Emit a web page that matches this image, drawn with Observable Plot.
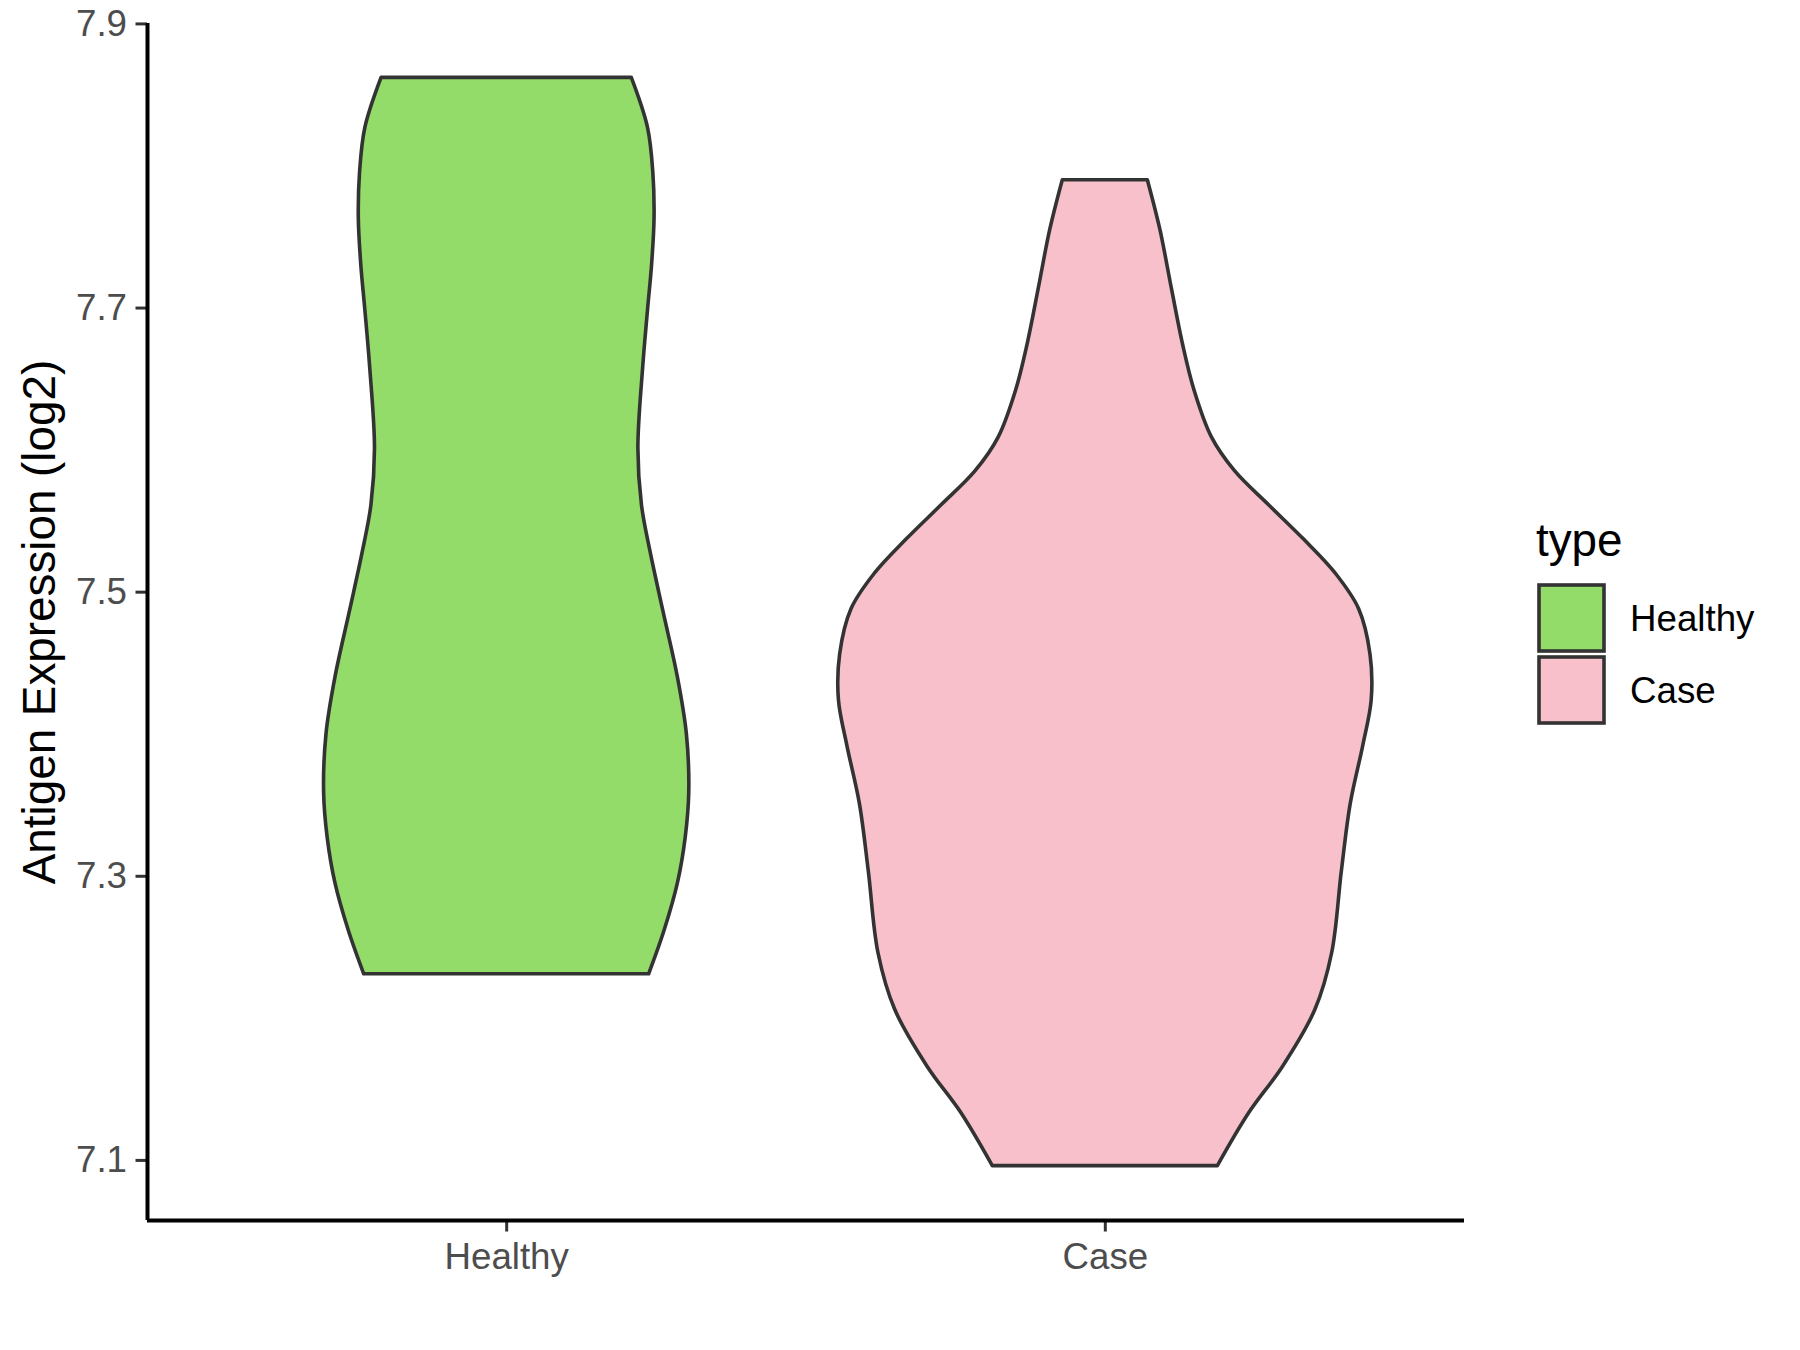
<!DOCTYPE html>
<html><head><meta charset="utf-8">
<script src="https://cdn.jsdelivr.net/npm/d3@7"></script>
<script src="https://cdn.jsdelivr.net/npm/@observablehq/plot@0.6"></script>
<style>
body{margin:0;background:#fff;font-family:"Liberation Sans",Arial,sans-serif;}
#wrap{position:relative;width:1800px;height:1350px;}
#wrap svg{display:block;}
</style></head><body><div id="wrap"></div>
<script>
const categories = ["Healthy", "Case"];
const categoryFills = ["#93DC6A", "#F7C0CB"];
const yTicks = [7.1, 7.3, 7.5, 7.7, 7.9];
const yLabel = "Antigen Expression (log2)";
const legendTitle = "type";

// violin outlines: expression value and half-width (in x-category units)
const healthyY = [7.862, 7.827, 7.795, 7.763, 7.731, 7.698, 7.658, 7.601, 7.561, 7.529, 7.488, 7.440, 7.400, 7.359, 7.327, 7.295, 7.262, 7.231];
const healthyHalfWidth = [0.209, 0.236, 0.245, 0.247, 0.243, 0.236, 0.228, 0.220, 0.226, 0.240, 0.261, 0.286, 0.301, 0.305, 0.299, 0.286, 0.264, 0.238];
const caseY = [7.790, 7.755, 7.714, 7.674, 7.642, 7.609, 7.585, 7.561, 7.537, 7.513, 7.488, 7.456, 7.424, 7.392, 7.351, 7.303, 7.246, 7.206, 7.166, 7.133, 7.096];
const caseHalfWidth = [0.071, 0.092, 0.111, 0.130, 0.149, 0.178, 0.217, 0.274, 0.332, 0.385, 0.424, 0.443, 0.445, 0.431, 0.410, 0.395, 0.379, 0.351, 0.297, 0.240, 0.188];

const series = [
  {type: categories[0], ys: healthyY, hw: healthyHalfWidth},
  {type: categories[1], ys: caseY, hw: caseHalfWidth}
];
const rows = [];
series.forEach((s, i) => {
  const pos = i + 1;
  s.ys.forEach((y, j) => rows.push({type: s.type, y, x1: pos - s.hw[j], x2: pos + s.hw[j]}));
});
rows.sort((a, b) => a.y - b.y);

const yMin = 7.0577, yMax = 7.9003;

const chart = Plot.plot({
  width: 1800,
  height: 1350,
  marginLeft: 147,
  marginRight: 336,
  marginTop: 23,
  marginBottom: 130,
  style: {fontFamily: "'Liberation Sans', Arial, sans-serif", background: "#fff"},
  x: {domain: [0.4, 2.6], axis: null},
  y: {domain: [yMin, yMax], axis: null},
  color: {domain: categories, range: categoryFills},
  marks: [
    Plot.areaX(rows, {x1: "x1", x2: "x2", y: "y", z: "type", fill: "type", stroke: "#333333", strokeWidth: 3.6, strokeLinejoin: "round", curve: "catmull-rom"}),
    Plot.axisY({ticks: yTicks, tickSize: 11.5, tickPadding: 9, stroke: "#333333", strokeWidth: 3, fill: "#4D4D4D", fontSize: 36.7, label: null, tickFormat: d => d.toFixed(1)}),
    Plot.axisX({ticks: [1, 2], tickSize: 11.5, tickPadding: 11, stroke: "#333333", strokeWidth: 3, fill: "#4D4D4D", fontSize: 36.7, label: null, tickFormat: d => categories[d - 1]}),
    Plot.ruleX([0.4], {y1: yMin, y2: yMax, stroke: "#000", strokeWidth: 4}),
    Plot.ruleY([yMin], {x1: 0.4, x2: 2.6, stroke: "#000", strokeWidth: 4}),
    Plot.text([yLabel], {frameAnchor: "left", textAnchor: "middle", rotate: -90, dx: -107, fontSize: 45.8, fill: "#000"})
  ]
});
const wrap = document.getElementById("wrap");
wrap.appendChild(chart);

// legend
const ns = "http://www.w3.org/2000/svg";
const leg = document.createElementNS(ns, "svg");
leg.setAttribute("width", 1800);
leg.setAttribute("height", 1350);
leg.style.position = "absolute";
leg.style.left = "0px";
leg.style.top = "0px";
leg.style.pointerEvents = "none";
const t = document.createElementNS(ns, "text");
t.setAttribute("x", 1536); t.setAttribute("y", 556);
t.setAttribute("font-size", 45.8); t.setAttribute("font-family", "'Liberation Sans', Arial, sans-serif");
t.textContent = legendTitle;
leg.appendChild(t);
categories.forEach((c, i) => {
  const y0 = 585 + i * 72;
  const r = document.createElementNS(ns, "rect");
  r.setAttribute("x", 1539); r.setAttribute("y", y0);
  r.setAttribute("width", 65); r.setAttribute("height", 66);
  r.setAttribute("fill", categoryFills[i]); r.setAttribute("stroke", "#333333"); r.setAttribute("stroke-width", 3.6);
  leg.appendChild(r);
  const lt = document.createElementNS(ns, "text");
  lt.setAttribute("x", 1630); lt.setAttribute("y", y0 + 33);
  lt.setAttribute("dominant-baseline", "central");
  lt.setAttribute("font-size", 36.7); lt.setAttribute("font-family", "'Liberation Sans', Arial, sans-serif");
  lt.textContent = c;
  leg.appendChild(lt);
});
wrap.appendChild(leg);
</script></body></html>
